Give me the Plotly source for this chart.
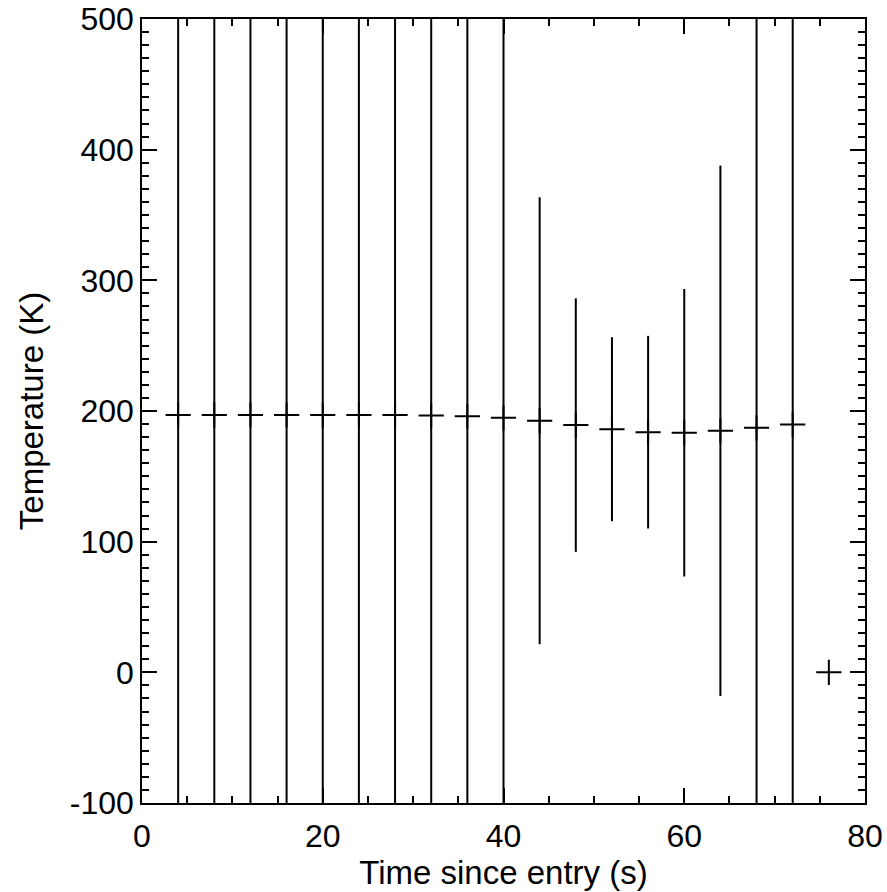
import plotly.graph_objects as go

time_s = [4, 8, 12, 16, 20, 24, 28, 32, 36, 40, 44, 48, 52, 56, 60, 64, 68, 72, 76]
temperature = [197, 197, 197, 197, 197, 197, 197, 196.5, 196, 194.8, 192.5, 189.2, 186.1, 183.8, 183.3, 184.9, 187.1, 189.7, 0]
temp_error = [900, 900, 900, 900, 900, 900, 900, 900, 900, 900, 171, 97, 70.4, 73.7, 110, 203, 900, 900, 0]

x_tickvals = [0, 20, 40, 60, 80]
x_ticktext = ["0", "20", "40", "60", "80"]
y_tickvals = [-100, 0, 100, 200, 300, 400, 500]
y_ticktext = ["-100", "0", "100", "200", "300", "400", "500"]

FONT = "Liberation Sans, Arial, Helvetica, sans-serif"

fig = go.Figure()
fig.add_trace(go.Scatter(
    x=time_s, y=temperature, mode="markers",
    marker=dict(symbol="cross-thin", size=18, color="black",
                line=dict(color="black", width=2)),
    error_y=dict(type="data", array=temp_error, visible=True,
                 color="black", thickness=2, width=0),
    cliponaxis=True, showlegend=False,
))

axis_common = dict(
    showline=True, linecolor="black", linewidth=1.5, mirror="allticks",
    ticks="inside", ticklen=15, tickwidth=1.5, tickcolor="black",
    showgrid=False, zeroline=False, automargin=False,
    tickfont=dict(family=FONT, size=32, color="black"),
    tickmode="array",
)

fig.update_layout(
    width=887, height=892,
    margin=dict(l=142, r=22, t=19, b=89),
    paper_bgcolor="white", plot_bgcolor="white",
    font=dict(family=FONT, size=32, color="black"),
    xaxis=dict(range=[0, 80], tickvals=x_tickvals, ticktext=x_ticktext,
               minor=dict(tickmode="linear", tick0=0, dtick=5, ticklen=7, tickwidth=1.5, tickcolor="black", ticks="inside"),
               title=dict(text="Time since entry (s)", font=dict(family=FONT, size=33), standoff=0),
               ticklabelstandoff=4,
               **axis_common),
    yaxis=dict(range=[-100, 500], tickvals=y_tickvals, ticktext=y_ticktext,
               minor=dict(tickmode="linear", tick0=0, dtick=10, ticklen=7, tickwidth=1.5, tickcolor="black", ticks="inside"),
               title=dict(text="Temperature (K)", font=dict(family=FONT, size=33), standoff=16),
               ticklabelstandoff=0,
               **axis_common),
)

fig.write_html("out.html")
